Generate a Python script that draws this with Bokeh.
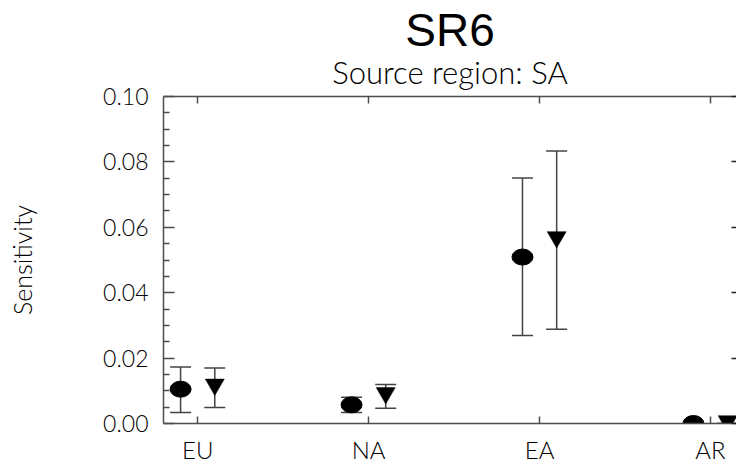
import numpy as np
from bokeh.plotting import figure
from bokeh.models import (Range1d, LinearAxis, FixedTicker, PrintfTickFormatter,
                          Title, ColumnDataSource)
from bokeh.embed import file_html
from bokeh.resources import INLINE

# ---- data ----
regions = ["EU", "NA", "EA", "AR"]
y_ticks = [0.00, 0.02, 0.04, 0.06, 0.08, 0.10]
y_minor = [0.005, 0.01, 0.015, 0.025, 0.03, 0.035, 0.045, 0.05, 0.055,
           0.065, 0.07, 0.075, 0.085, 0.09, 0.095]

circle_val = [0.0105, 0.0057, 0.0509, 0.0000]
circle_hi = [0.0173, 0.0080, 0.0751, 0.0000]
circle_lo = [0.0034, 0.0034, 0.0269, 0.0000]

tri_val = [0.0119, 0.0093, 0.0570, 0.0007]
tri_hi = [0.0170, 0.0119, 0.0833, 0.0000]
tri_lo = [0.0049, 0.0047, 0.0288, 0.0000]

title_text = "SR6"
subtitle_text = "Source region: SA"
ylabel_text = "Sensitivity"

# ---- styling ----
THIN = "Lato Light"
AX = "#4d4d4d"
BAR = "#444444"

idx = np.arange(len(regions))
xc = idx - 0.1
xt = idx + 0.1

p = figure(width=736, height=466,
           x_range=Range1d(-0.2, 3.152), y_range=Range1d(0, 0.1),
           output_backend="svg", toolbar_location=None,
           x_axis_location=None, y_axis_location=None,
           min_border_left=163, min_border_right=0,
           min_border_top=96, min_border_bottom=42)
p.outline_line_color = None
p.xgrid.visible = False
p.ygrid.visible = False
p.background_fill_color = "white"
p.border_fill_color = "white"

# axes
left = LinearAxis(ticker=FixedTicker(ticks=y_ticks, minor_ticks=y_minor),
                  formatter=PrintfTickFormatter(format="%.2f"))
left.major_tick_in = 11
left.major_tick_out = 0
left.minor_tick_in = 6
left.minor_tick_out = 0
left.major_label_standoff = 15
left.major_label_text_font = THIN
left.major_label_text_font_size = "23px"
left.major_label_text_color = "black"
left.axis_line_color = AX
left.axis_line_width = 1.5
left.major_tick_line_color = AX
left.major_tick_line_width = 1.5
left.minor_tick_line_color = AX
left.minor_tick_line_width = 1.5
left.axis_label = ylabel_text
left.axis_label_text_font = THIN
left.axis_label_text_font_size = "25px"
left.axis_label_text_font_style = "normal"
left.axis_label_text_color = "black"
left.axis_label_standoff = 63
p.add_layout(left, "left")

# right axis: tick marks only (ticks given as minor ticks -> no labels)
right = LinearAxis(ticker=FixedTicker(ticks=[], minor_ticks=y_ticks))
right.axis_line_color = None
right.major_tick_line_color = None
right.minor_tick_in = 5
right.minor_tick_out = 0
right.minor_tick_line_color = "#222222"
right.minor_tick_line_width = 1.5
right.major_label_standoff = 0
p.add_layout(right, "right")

bottom = LinearAxis(ticker=FixedTicker(ticks=list(idx), minor_ticks=[]),
                    major_label_overrides={int(i): r for i, r in zip(idx, regions)})
bottom.major_tick_in = 7
bottom.major_tick_out = 0
bottom.minor_tick_line_color = None
bottom.major_label_standoff = 11
bottom.major_label_text_font = THIN
bottom.major_label_text_font_size = "24px"
bottom.major_label_text_color = "black"
bottom.axis_line_color = AX
bottom.axis_line_width = 1.5
bottom.major_tick_line_color = AX
bottom.major_tick_line_width = 1.5
p.add_layout(bottom, "below")

# top axis: tick marks only
top = LinearAxis(ticker=FixedTicker(ticks=[], minor_ticks=list(idx)))
top.major_tick_line_color = None
top.minor_tick_in = 7
top.minor_tick_out = 0
top.minor_tick_line_color = AX
top.minor_tick_line_width = 1.5
top.major_label_standoff = 0
top.axis_line_color = AX
top.axis_line_width = 1.5
p.add_layout(top, "above")

# error bars
for xs, lo, hi in [(xc, circle_lo, circle_hi), (xt, tri_lo, tri_hi)]:
    src = ColumnDataSource(dict(x=xs, lo=lo, hi=hi))
    p.segment(x0="x", y0="lo", x1="x", y1="hi", source=src,
              line_color=BAR, line_width=1.5)
    p.scatter(x="x", y="hi", source=src, marker="dash", size=21,
              line_color=BAR, line_width=1.5)
    p.scatter(x="x", y="lo", source=src, marker="dash", size=21,
              line_color=BAR, line_width=1.5)

# markers
p.ellipse(x=xc, y=circle_val, width=21, height=16,
          width_units="screen", height_units="screen",
          fill_color="black", line_color="black")
p.scatter(x=xt, y=tri_val, marker="inverted_triangle", size=19,
          fill_color="black", line_color="black", line_width=0.5)

# titles (stacked outward from the frame)
p.add_layout(Title(text=subtitle_text, align="center", standoff=11,
                   text_font=THIN, text_font_size="31px",
                   text_font_style="normal", text_color="black"), "above")
p.add_layout(Title(text=title_text, align="center", standoff=-20,
                   text_font="Liberation Sans", text_font_size="46px",
                   text_font_style="normal", text_color="black"), "above")

open("out.html", "w").write(file_html(p, INLINE))
